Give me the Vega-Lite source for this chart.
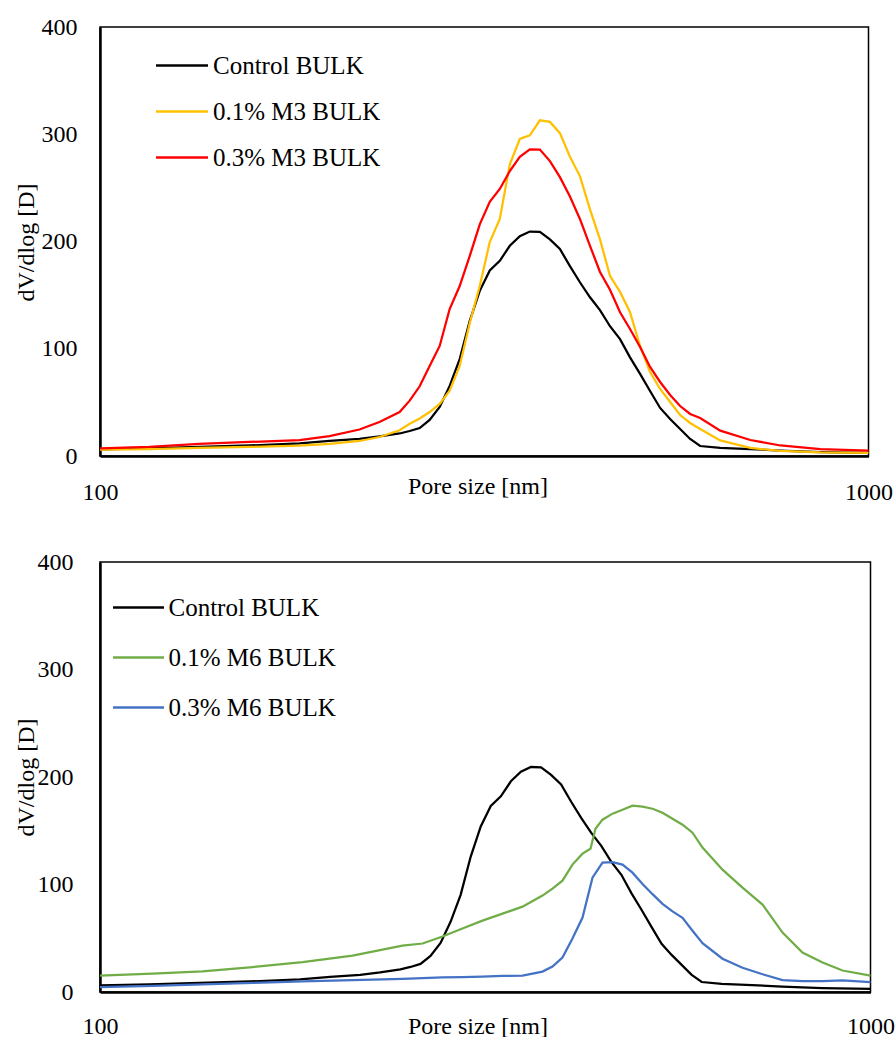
{
  "$schema": "https://vega.github.io/schema/vega-lite/v6.json",
  "background": "white",
  "padding": {"left": 13, "top": 14, "right": 0, "bottom": 0},
  "config": {
    "font": "Liberation Serif",
    "view": {"stroke": "#000000", "strokeWidth": 1.5},
    "axis": {
      "grid": false, "ticks": false, "tickSize": 0,
      "domainColor": "#000000", "domainWidth": 2.5,
      "labelColor": "#000000", "titleColor": "#000000",
      "labelFontSize": 24, "titleFontSize": 24, "titleFontWeight": "normal",
      "labelFont": "Liberation Serif", "titleFont": "Liberation Serif"
    },
    "legend": {
      "labelFont": "Liberation Serif", "labelFontSize": 25, "labelColor": "#000000",
      "labelLimit": 400, "padding": 0, "symbolStrokeWidth": 2.5
    }
  },
  "datasets": {
    "control": [
      {"size": 100, "value": 6.1, "series": "Control BULK"},
      {"size": 115.9, "value": 7.0, "series": "Control BULK"},
      {"size": 134.6, "value": 8.4, "series": "Control BULK"},
      {"size": 156.4, "value": 9.8, "series": "Control BULK"},
      {"size": 181.8, "value": 11.7, "series": "Control BULK"},
      {"size": 198.9, "value": 14.0, "series": "Control BULK"},
      {"size": 217.6, "value": 15.9, "series": "Control BULK"},
      {"size": 231.0, "value": 18.2, "series": "Control BULK"},
      {"size": 245.4, "value": 21.0, "series": "Control BULK"},
      {"size": 252.9, "value": 23.3, "series": "Control BULK"},
      {"size": 260.6, "value": 26.1, "series": "Control BULK"},
      {"size": 268.5, "value": 33.6, "series": "Control BULK"},
      {"size": 276.7, "value": 45.7, "series": "Control BULK"},
      {"size": 285.1, "value": 65.3, "series": "Control BULK"},
      {"size": 293.8, "value": 90.4, "series": "Control BULK"},
      {"size": 302.8, "value": 126, "series": "Control BULK"},
      {"size": 312.0, "value": 154, "series": "Control BULK"},
      {"size": 321.5, "value": 173, "series": "Control BULK"},
      {"size": 331.3, "value": 182, "series": "Control BULK"},
      {"size": 341.4, "value": 196, "series": "Control BULK"},
      {"size": 351.8, "value": 205, "series": "Control BULK"},
      {"size": 362.5, "value": 209.3, "series": "Control BULK"},
      {"size": 373.6, "value": 209, "series": "Control BULK"},
      {"size": 385.0, "value": 202, "series": "Control BULK"},
      {"size": 396.7, "value": 193, "series": "Control BULK"},
      {"size": 408.8, "value": 177, "series": "Control BULK"},
      {"size": 421.2, "value": 162, "series": "Control BULK"},
      {"size": 434.1, "value": 148, "series": "Control BULK"},
      {"size": 447.3, "value": 136, "series": "Control BULK"},
      {"size": 460.9, "value": 121, "series": "Control BULK"},
      {"size": 475.0, "value": 109, "series": "Control BULK"},
      {"size": 489.4, "value": 92, "series": "Control BULK"},
      {"size": 504.4, "value": 76.5, "series": "Control BULK"},
      {"size": 519.7, "value": 60.6, "series": "Control BULK"},
      {"size": 535.6, "value": 44.8, "series": "Control BULK"},
      {"size": 551.9, "value": 34.5, "series": "Control BULK"},
      {"size": 568.7, "value": 25.2, "series": "Control BULK"},
      {"size": 586.0, "value": 15.9, "series": "Control BULK"},
      {"size": 603.9, "value": 9.3, "series": "Control BULK"},
      {"size": 641.3, "value": 7.5, "series": "Control BULK"},
      {"size": 701.8, "value": 6.5, "series": "Control BULK"},
      {"size": 768.0, "value": 5.1, "series": "Control BULK"},
      {"size": 865.9, "value": 3.7, "series": "Control BULK"},
      {"size": 1000, "value": 2.8, "series": "Control BULK"}
    ],
    "m3": [
      {"size": 100, "value": 5.9, "series": "0.1% M3 BULK"},
      {"size": 115.9, "value": 6.5, "series": "0.1% M3 BULK"},
      {"size": 134.6, "value": 7.5, "series": "0.1% M3 BULK"},
      {"size": 156.4, "value": 8.4, "series": "0.1% M3 BULK"},
      {"size": 181.8, "value": 9.6, "series": "0.1% M3 BULK"},
      {"size": 198.9, "value": 11.2, "series": "0.1% M3 BULK"},
      {"size": 217.6, "value": 14, "series": "0.1% M3 BULK"},
      {"size": 231.0, "value": 17.7, "series": "0.1% M3 BULK"},
      {"size": 245.4, "value": 24, "series": "0.1% M3 BULK"},
      {"size": 252.9, "value": 30, "series": "0.1% M3 BULK"},
      {"size": 260.6, "value": 35, "series": "0.1% M3 BULK"},
      {"size": 268.5, "value": 41, "series": "0.1% M3 BULK"},
      {"size": 276.7, "value": 48.5, "series": "0.1% M3 BULK"},
      {"size": 285.1, "value": 61, "series": "0.1% M3 BULK"},
      {"size": 293.8, "value": 84, "series": "0.1% M3 BULK"},
      {"size": 302.8, "value": 124, "series": "0.1% M3 BULK"},
      {"size": 312.0, "value": 158.5, "series": "0.1% M3 BULK"},
      {"size": 321.5, "value": 199.5, "series": "0.1% M3 BULK"},
      {"size": 331.3, "value": 221, "series": "0.1% M3 BULK"},
      {"size": 341.4, "value": 272, "series": "0.1% M3 BULK"},
      {"size": 351.8, "value": 295.6, "series": "0.1% M3 BULK"},
      {"size": 362.5, "value": 299, "series": "0.1% M3 BULK"},
      {"size": 373.6, "value": 313, "series": "0.1% M3 BULK"},
      {"size": 385.0, "value": 311.5, "series": "0.1% M3 BULK"},
      {"size": 396.7, "value": 301, "series": "0.1% M3 BULK"},
      {"size": 408.8, "value": 279, "series": "0.1% M3 BULK"},
      {"size": 421.2, "value": 261, "series": "0.1% M3 BULK"},
      {"size": 434.1, "value": 230, "series": "0.1% M3 BULK"},
      {"size": 447.3, "value": 202, "series": "0.1% M3 BULK"},
      {"size": 460.9, "value": 168, "series": "0.1% M3 BULK"},
      {"size": 475.0, "value": 153, "series": "0.1% M3 BULK"},
      {"size": 489.4, "value": 134, "series": "0.1% M3 BULK"},
      {"size": 504.4, "value": 102.6, "series": "0.1% M3 BULK"},
      {"size": 519.7, "value": 78.3, "series": "0.1% M3 BULK"},
      {"size": 535.6, "value": 62.5, "series": "0.1% M3 BULK"},
      {"size": 551.9, "value": 50.3, "series": "0.1% M3 BULK"},
      {"size": 568.7, "value": 38.2, "series": "0.1% M3 BULK"},
      {"size": 586.0, "value": 30.8, "series": "0.1% M3 BULK"},
      {"size": 603.9, "value": 25.2, "series": "0.1% M3 BULK"},
      {"size": 641.3, "value": 14.5, "series": "0.1% M3 BULK"},
      {"size": 701.8, "value": 7.5, "series": "0.1% M3 BULK"},
      {"size": 768.0, "value": 4.7, "series": "0.1% M3 BULK"},
      {"size": 865.9, "value": 3.3, "series": "0.1% M3 BULK"},
      {"size": 1000, "value": 2.8, "series": "0.1% M3 BULK"},
      {"size": 100, "value": 7.2, "series": "0.3% M3 BULK"},
      {"size": 115.9, "value": 8.4, "series": "0.3% M3 BULK"},
      {"size": 134.6, "value": 11.2, "series": "0.3% M3 BULK"},
      {"size": 156.4, "value": 13.1, "series": "0.3% M3 BULK"},
      {"size": 181.8, "value": 14.9, "series": "0.3% M3 BULK"},
      {"size": 198.9, "value": 18.6, "series": "0.3% M3 BULK"},
      {"size": 217.6, "value": 24.7, "series": "0.3% M3 BULK"},
      {"size": 231.0, "value": 31.7, "series": "0.3% M3 BULK"},
      {"size": 245.4, "value": 41, "series": "0.3% M3 BULK"},
      {"size": 252.9, "value": 51.6, "series": "0.3% M3 BULK"},
      {"size": 260.6, "value": 65, "series": "0.3% M3 BULK"},
      {"size": 268.5, "value": 84, "series": "0.3% M3 BULK"},
      {"size": 276.7, "value": 102.6, "series": "0.3% M3 BULK"},
      {"size": 285.1, "value": 137, "series": "0.3% M3 BULK"},
      {"size": 293.8, "value": 158.5, "series": "0.3% M3 BULK"},
      {"size": 302.8, "value": 186.5, "series": "0.3% M3 BULK"},
      {"size": 312.0, "value": 216, "series": "0.3% M3 BULK"},
      {"size": 321.5, "value": 237, "series": "0.3% M3 BULK"},
      {"size": 331.3, "value": 249, "series": "0.3% M3 BULK"},
      {"size": 341.4, "value": 265.7, "series": "0.3% M3 BULK"},
      {"size": 351.8, "value": 279, "series": "0.3% M3 BULK"},
      {"size": 362.5, "value": 286, "series": "0.3% M3 BULK"},
      {"size": 373.6, "value": 285.7, "series": "0.3% M3 BULK"},
      {"size": 385.0, "value": 275, "series": "0.3% M3 BULK"},
      {"size": 396.7, "value": 260, "series": "0.3% M3 BULK"},
      {"size": 408.8, "value": 242, "series": "0.3% M3 BULK"},
      {"size": 421.2, "value": 221, "series": "0.3% M3 BULK"},
      {"size": 434.1, "value": 196, "series": "0.3% M3 BULK"},
      {"size": 447.3, "value": 171.6, "series": "0.3% M3 BULK"},
      {"size": 460.9, "value": 155, "series": "0.3% M3 BULK"},
      {"size": 475.0, "value": 134, "series": "0.3% M3 BULK"},
      {"size": 489.4, "value": 118.4, "series": "0.3% M3 BULK"},
      {"size": 504.4, "value": 101.6, "series": "0.3% M3 BULK"},
      {"size": 519.7, "value": 83, "series": "0.3% M3 BULK"},
      {"size": 535.6, "value": 69, "series": "0.3% M3 BULK"},
      {"size": 551.9, "value": 56.9, "series": "0.3% M3 BULK"},
      {"size": 568.7, "value": 46.6, "series": "0.3% M3 BULK"},
      {"size": 586.0, "value": 39.2, "series": "0.3% M3 BULK"},
      {"size": 603.9, "value": 35.4, "series": "0.3% M3 BULK"},
      {"size": 641.3, "value": 23.6, "series": "0.3% M3 BULK"},
      {"size": 701.8, "value": 14.9, "series": "0.3% M3 BULK"},
      {"size": 768.0, "value": 9.8, "series": "0.3% M3 BULK"},
      {"size": 865.9, "value": 6.5, "series": "0.3% M3 BULK"},
      {"size": 1000, "value": 4.9, "series": "0.3% M3 BULK"}
    ],
    "m6": [
      {"size": 100, "value": 15.3, "series": "0.1% M6 BULK"},
      {"size": 117.0, "value": 17.2, "series": "0.1% M6 BULK"},
      {"size": 135.8, "value": 19.3, "series": "0.1% M6 BULK"},
      {"size": 157.8, "value": 23.2, "series": "0.1% M6 BULK"},
      {"size": 183.2, "value": 27.7, "series": "0.1% M6 BULK"},
      {"size": 212.7, "value": 33.9, "series": "0.1% M6 BULK"},
      {"size": 246.9, "value": 43.2, "series": "0.1% M6 BULK"},
      {"size": 262.2, "value": 45.1, "series": "0.1% M6 BULK"},
      {"size": 278.3, "value": 51.6, "series": "0.1% M6 BULK"},
      {"size": 295.4, "value": 59, "series": "0.1% M6 BULK"},
      {"size": 313.6, "value": 66.4, "series": "0.1% M6 BULK"},
      {"size": 333.0, "value": 72.9, "series": "0.1% M6 BULK"},
      {"size": 353.5, "value": 79.4, "series": "0.1% M6 BULK"},
      {"size": 375.2, "value": 89.7, "series": "0.1% M6 BULK"},
      {"size": 386.6, "value": 96.2, "series": "0.1% M6 BULK"},
      {"size": 398.3, "value": 103.6, "series": "0.1% M6 BULK"},
      {"size": 410.4, "value": 118.5, "series": "0.1% M6 BULK"},
      {"size": 422.9, "value": 128.7, "series": "0.1% M6 BULK"},
      {"size": 433.1, "value": 133.3, "series": "0.1% M6 BULK"},
      {"size": 439.6, "value": 151.9, "series": "0.1% M6 BULK"},
      {"size": 448.9, "value": 160.3, "series": "0.1% M6 BULK"},
      {"size": 462.6, "value": 165.9, "series": "0.1% M6 BULK"},
      {"size": 476.6, "value": 169.6, "series": "0.1% M6 BULK"},
      {"size": 491.0, "value": 173.3, "series": "0.1% M6 BULK"},
      {"size": 506.0, "value": 172.4, "series": "0.1% M6 BULK"},
      {"size": 521.3, "value": 170.5, "series": "0.1% M6 BULK"},
      {"size": 537.1, "value": 166.8, "series": "0.1% M6 BULK"},
      {"size": 553.4, "value": 161.2, "series": "0.1% M6 BULK"},
      {"size": 570.2, "value": 155.6, "series": "0.1% M6 BULK"},
      {"size": 587.5, "value": 148.2, "series": "0.1% M6 BULK"},
      {"size": 605.3, "value": 134.3, "series": "0.1% M6 BULK"},
      {"size": 642.6, "value": 113.8, "series": "0.1% M6 BULK"},
      {"size": 682.2, "value": 97.1, "series": "0.1% M6 BULK"},
      {"size": 724.2, "value": 81.3, "series": "0.1% M6 BULK"},
      {"size": 768.8, "value": 55.3, "series": "0.1% M6 BULK"},
      {"size": 816.0, "value": 36.7, "series": "0.1% M6 BULK"},
      {"size": 866.5, "value": 27.4, "series": "0.1% M6 BULK"},
      {"size": 919.7, "value": 20, "series": "0.1% M6 BULK"},
      {"size": 1000, "value": 15.3, "series": "0.1% M6 BULK"},
      {"size": 100, "value": 4.5, "series": "0.3% M6 BULK"},
      {"size": 117.0, "value": 5.8, "series": "0.3% M6 BULK"},
      {"size": 135.8, "value": 7, "series": "0.3% M6 BULK"},
      {"size": 157.8, "value": 8.4, "series": "0.3% M6 BULK"},
      {"size": 183.2, "value": 9.8, "series": "0.3% M6 BULK"},
      {"size": 212.7, "value": 11.1, "series": "0.3% M6 BULK"},
      {"size": 246.9, "value": 12.3, "series": "0.3% M6 BULK"},
      {"size": 262.2, "value": 12.8, "series": "0.3% M6 BULK"},
      {"size": 278.3, "value": 13.5, "series": "0.3% M6 BULK"},
      {"size": 295.4, "value": 13.9, "series": "0.3% M6 BULK"},
      {"size": 313.6, "value": 14.4, "series": "0.3% M6 BULK"},
      {"size": 333.0, "value": 14.9, "series": "0.3% M6 BULK"},
      {"size": 353.5, "value": 15.3, "series": "0.3% M6 BULK"},
      {"size": 375.2, "value": 19, "series": "0.3% M6 BULK"},
      {"size": 386.6, "value": 23.7, "series": "0.3% M6 BULK"},
      {"size": 398.3, "value": 32, "series": "0.3% M6 BULK"},
      {"size": 410.4, "value": 49.7, "series": "0.3% M6 BULK"},
      {"size": 422.9, "value": 69.2, "series": "0.3% M6 BULK"},
      {"size": 435.7, "value": 106.4, "series": "0.3% M6 BULK"},
      {"size": 448.9, "value": 120.3, "series": "0.3% M6 BULK"},
      {"size": 462.6, "value": 120.8, "series": "0.3% M6 BULK"},
      {"size": 476.6, "value": 118.5, "series": "0.3% M6 BULK"},
      {"size": 491.0, "value": 111, "series": "0.3% M6 BULK"},
      {"size": 506.0, "value": 100.5, "series": "0.3% M6 BULK"},
      {"size": 521.3, "value": 91, "series": "0.3% M6 BULK"},
      {"size": 537.1, "value": 82, "series": "0.3% M6 BULK"},
      {"size": 553.4, "value": 75, "series": "0.3% M6 BULK"},
      {"size": 570.2, "value": 69, "series": "0.3% M6 BULK"},
      {"size": 587.5, "value": 57, "series": "0.3% M6 BULK"},
      {"size": 605.3, "value": 45.5, "series": "0.3% M6 BULK"},
      {"size": 642.6, "value": 31, "series": "0.3% M6 BULK"},
      {"size": 682.2, "value": 22.5, "series": "0.3% M6 BULK"},
      {"size": 724.2, "value": 16.5, "series": "0.3% M6 BULK"},
      {"size": 768.8, "value": 11.1, "series": "0.3% M6 BULK"},
      {"size": 816.0, "value": 10.2, "series": "0.3% M6 BULK"},
      {"size": 866.5, "value": 10.2, "series": "0.3% M6 BULK"},
      {"size": 919.7, "value": 10.7, "series": "0.3% M6 BULK"},
      {"size": 1000, "value": 9.3, "series": "0.3% M6 BULK"}
    ]
  },
  "resolve": {"scale": {"color": "independent"}, "legend": {"color": "independent"}},
  "spacing": 44,
  "vconcat": [
    {
      "width": 768.5,
      "height": 429,
      "encoding": {
        "x": {
          "field": "size", "type": "quantitative",
          "scale": {"type": "log", "domain": [100, 1000]},
          "axis": {"values": [100, 1000], "format": "d", "labelPadding": 24, "labelFlush": false, "labelOverlap": false,
                   "title": "Pore size [nm]", "titleX": 377.5, "titleY": 37, "titleBaseline": "alphabetic"}
        },
        "y": {
          "field": "value", "type": "quantitative",
          "scale": {"domain": [0, 400], "nice": false},
          "axis": {"values": [0, 100, 200, 300, 400], "labelPadding": 23,
                   "title": "dV/dlog [D]", "titleX": -73.5, "titleY": 215, "titleBaseline": "middle"}
        },
        "color": {
          "field": "series", "type": "nominal",
          "scale": {"domain": ["Control BULK", "0.1% M3 BULK", "0.3% M3 BULK"], "range": ["#000000", "#FFC000", "#FF0000"]},
          "legend": {"orient": "none", "legendX": 69.5, "legendY": 26, "title": null,
                     "symbolType": "M-2.6,0H2.6", "symbolSize": 400, "labelOffset": 18.5, "rowPadding": 20}
        }
      },
      "layer": [
        {"data": {"name": "control"}, "mark": {"type": "line", "strokeWidth": 2.25}},
        {"data": {"name": "m3"}, "mark": {"type": "line", "strokeWidth": 2.25}}
      ]
    },
    {
      "width": 770.5,
      "height": 430,
      "encoding": {
        "x": {
          "field": "size", "type": "quantitative",
          "scale": {"type": "log", "domain": [100, 1000]},
          "axis": {"values": [100, 1000], "format": "d", "labelPadding": 22.5, "labelFlush": false, "labelOverlap": false,
                   "title": "Pore size [nm]", "titleX": 377.5, "titleY": 41, "titleBaseline": "alphabetic"}
        },
        "y": {
          "field": "value", "type": "quantitative",
          "scale": {"domain": [0, 400], "nice": false},
          "axis": {"values": [0, 100, 200, 300, 400], "labelPadding": 27,
                   "title": "dV/dlog [D]", "titleX": -73.5, "titleY": 215, "titleBaseline": "middle"}
        },
        "color": {
          "field": "series", "type": "nominal",
          "scale": {"domain": ["Control BULK", "0.1% M6 BULK", "0.3% M6 BULK"], "range": ["#000000", "#70AD47", "#4472C4"]},
          "legend": {"orient": "none", "legendX": 26, "legendY": 33, "title": null,
                     "symbolType": "M-2.55,0H2.55", "symbolSize": 400, "labelOffset": 17.5, "rowPadding": 24}
        }
      },
      "layer": [
        {"data": {"name": "control"}, "mark": {"type": "line", "strokeWidth": 2.25}},
        {"data": {"name": "m6"}, "mark": {"type": "line", "strokeWidth": 2.25}}
      ]
    }
  ]
}
